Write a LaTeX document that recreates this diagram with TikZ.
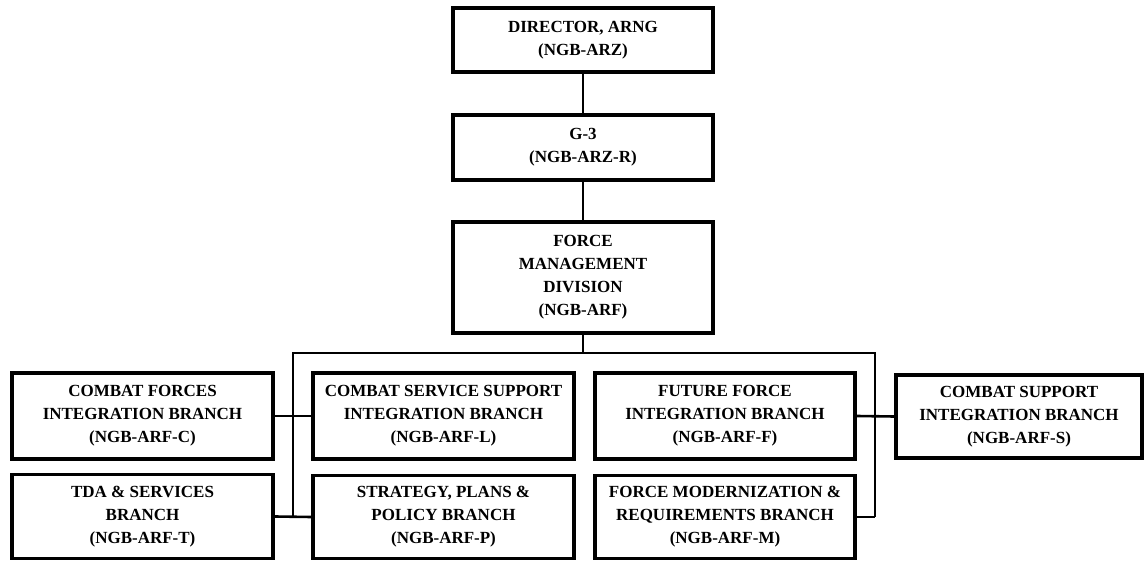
\documentclass[tikz,border=0pt]{standalone}
\usepackage{fontspec}
\setmainfont{Liberation Serif}
\begin{document}
\begin{tikzpicture}[x=1pt,y=-1pt,
  orgbox/.style={draw, line width=3.4pt, rectangle, align=center, inner sep=0pt,
    font=\fontsize{17}{23}\selectfont\bfseries},
  link/.style={line width=2.6pt},
  busline/.style={line width=2pt}]
\useasboundingbox (0,0) rectangle (1144,561);

% headquarters chain
\node[orgbox, minimum width=260pt, minimum height=64pt] (dir) at (583,40) {DIRECTOR, ARNG\\(NGB-ARZ)};
\node[orgbox, minimum width=260pt, minimum height=65pt] (g3) at (583,147.5) {G-3\\(NGB-ARZ-R)};
\node[orgbox, minimum width=260pt, minimum height=111pt] (fmd) at (583,277.5) {FORCE\\MANAGEMENT\\DIVISION\\(NGB-ARF)};

% branches, first row
\node[orgbox, minimum width=261pt, minimum height=86pt] (cf) at (142.5,416) {COMBAT FORCES\\INTEGRATION BRANCH\\(NGB-ARF-C)};
\node[orgbox, minimum width=261pt, minimum height=86pt] (css) at (443.5,416) {COMBAT SERVICE SUPPORT\\INTEGRATION BRANCH\\(NGB-ARF-L)};
\node[orgbox, minimum width=260pt, minimum height=86pt] (ff) at (725,416) {FUTURE FORCE\\INTEGRATION BRANCH\\(NGB-ARF-F)};
\node[orgbox, minimum width=246pt, minimum height=83pt] (cs) at (1019,416.5) {COMBAT SUPPORT\\INTEGRATION BRANCH\\(NGB-ARF-S)};

% branches, second row
\node[orgbox, minimum width=261pt, minimum height=84pt] (tda) at (142.5,516.5) {TDA \& SERVICES\\BRANCH\\(NGB-ARF-T)};
\node[orgbox, minimum width=261pt, minimum height=83pt] (spp) at (443.5,517) {STRATEGY, PLANS \&\\POLICY BRANCH\\(NGB-ARF-P)};
\node[orgbox, minimum width=260pt, minimum height=83pt] (fm) at (725,517) {FORCE MODERNIZATION \&\\REQUIREMENTS BRANCH\\(NGB-ARF-M)};

% bus ends
\coordinate (busL) at (293,353);
\coordinate (busR) at (875,353);

% connectors
\draw[link] (dir.south) -- (g3.north);
\draw[link] (g3.south) -- (fmd.north);
\draw[link] (fmd.south) -- (fmd.south |- busL);
\draw[busline] (busL |- tda.east) -- (busL) -- (busR) -- (busR |- fm.east);
\draw[link] (cf.east) -- (css.west);
\draw[link] (tda.east) -- (spp.west);
\draw[link] (ff.east) -- (cs.west);
\draw[link] (fm.east) -- (busR |- fm.east);
\end{tikzpicture}
\end{document}
